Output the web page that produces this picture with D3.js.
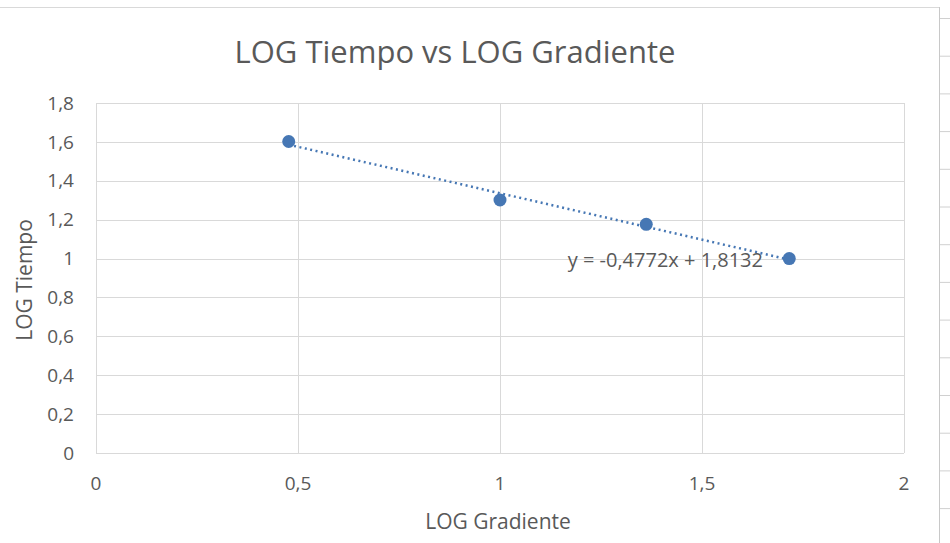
<!DOCTYPE html>
<html>
<head>
<meta charset="utf-8">
<script src="https://cdn.jsdelivr.net/npm/d3@7"></script>
<style>
body { margin: 0; background: #fff; }
text { font-family: "Open Sans", sans-serif; fill: #595959; }
</style>
</head>
<body>
<svg width="950" height="543"></svg>
<script>
var logGradiente = [0.477, 1, 1.362, 1.716];
var logTiempo = [1.602, 1.301, 1.176, 1.0];
var trend = [-0.4772, 1.8132];   // slope, intercept
var xTicks = [0, 0.5, 1, 1.5, 2];
var yTicks = [0, 0.2, 0.4, 0.6, 0.8, 1, 1.2, 1.4, 1.6, 1.8];

var svg = d3.select("svg"),
   width = +svg.attr("width"),
   height = +svg.attr("height");

var blue = "#4677b4";
var fmt = function(d) { return String(d).replace(".", ","); };

var x = d3.scaleLinear().domain([0, 2]).range([96, 904]);
var y = d3.scaleLinear().domain([0, 1.8]).range([453, 103]);

// sheet frame
svg.append("line").attr("x1", 0).attr("x2", 939).attr("y1", 7.5).attr("y2", 7.5)
   .attr("stroke", "#d9d9d9");
svg.append("line").attr("x1", 939.5).attr("x2", 939.5).attr("y1", 7).attr("y2", height)
   .attr("stroke", "#c8c8c8");
svg.selectAll(".cell")
   .data(d3.range(18.5, height, 37.7))
   .enter().append("line")
   .attr("x1", 940).attr("x2", 950)
   .attr("y1", function(d) { return d; }).attr("y2", function(d) { return d; })
   .attr("stroke", "#d0d0d0");

// grid
svg.selectAll(".gy")
   .data(yTicks)
   .enter().append("line")
   .attr("x1", x(0)).attr("x2", x(2))
   .attr("y1", function(d) { return Math.round(y(d)) + 0.5; })
   .attr("y2", function(d) { return Math.round(y(d)) + 0.5; })
   .attr("stroke", "#d9d9d9");
svg.selectAll(".gx")
   .data(xTicks)
   .enter().append("line")
   .attr("y1", y(0)).attr("y2", y(1.8))
   .attr("x1", function(d) { return Math.round(x(d)) + 0.5; })
   .attr("x2", function(d) { return Math.round(x(d)) + 0.5; })
   .attr("stroke", "#d9d9d9");

// tick labels
svg.selectAll(".yl")
   .data(yTicks)
   .enter().append("text")
   .attr("x", 74).attr("y", function(d) { return y(d); })
   .attr("dy", "0.35em")
   .style("text-anchor", "end")
   .style("font-size", "19px")
   .text(fmt);
svg.selectAll(".xl")
   .data(xTicks)
   .enter().append("text")
   .attr("x", function(d) { return x(d); }).attr("y", 483)
   .attr("dy", "0.35em")
   .style("text-anchor", "middle")
   .style("font-size", "19px")
   .text(fmt);

// titles
svg.append("text").attr("x", 455).attr("y", 52)
   .attr("dy", "0.35em")
   .style("text-anchor", "middle").style("font-size", "31px")
   .text("LOG Tiempo vs LOG Gradiente");
svg.append("text").attr("x", 498).attr("y", 522)
   .attr("dy", "0.35em")
   .style("text-anchor", "middle").style("font-size", "21px")
   .text("LOG Gradiente");
svg.append("text")
   .attr("transform", "translate(25,280) rotate(-90)")
   .attr("dy", "0.35em")
   .style("text-anchor", "middle").style("font-size", "21px")
   .text("LOG Tiempo");

// trendline
var tx = d3.extent(logGradiente);
svg.append("line")
   .attr("x1", x(tx[0])).attr("y1", y(trend[0] * tx[0] + trend[1]))
   .attr("x2", x(tx[1])).attr("y2", y(trend[0] * tx[1] + trend[1]))
   .attr("stroke", blue).attr("stroke-width", 2.5)
   .attr("stroke-dasharray", "2,3.5");

svg.append("text").attr("x", 763).attr("y", 260)
   .attr("dy", "0.35em")
   .style("text-anchor", "end").style("font-size", "20px")
   .text("y = " + fmt(trend[0]) + "x + " + fmt(trend[1]));

// points
svg.selectAll(".pt")
   .data(logGradiente)
   .enter().append("circle")
   .attr("cx", function(d) { return x(d); })
   .attr("cy", function(d, i) { return y(logTiempo[i]); })
   .attr("r", 6.5)
   .attr("fill", blue);
</script>
</body>
</html>
